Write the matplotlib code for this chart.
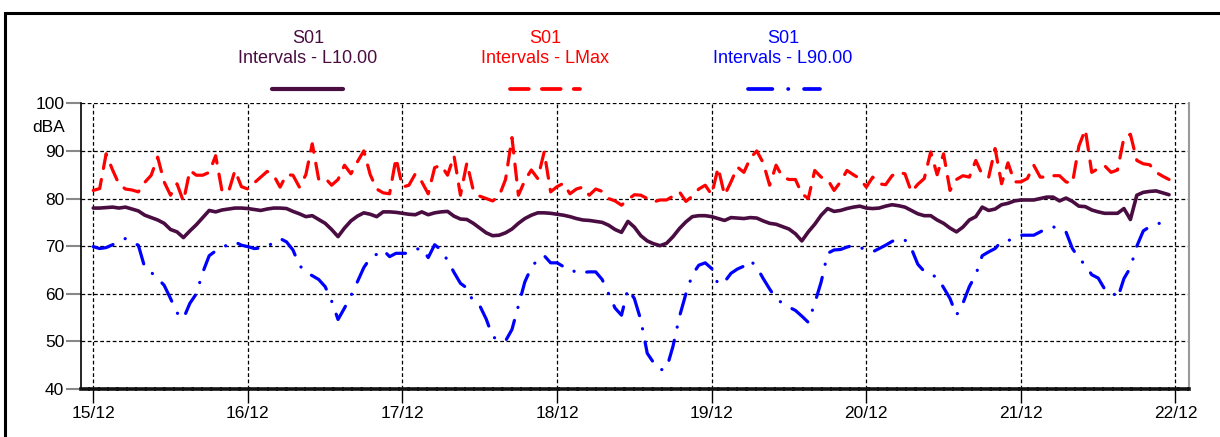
import matplotlib
matplotlib.use("Agg")
import matplotlib.pyplot as plt
import matplotlib.dates as mdates
from matplotlib.lines import Line2D
from matplotlib.patches import Rectangle
import numpy as np
import pandas as pd

plt.rcParams["font.family"] = ["Liberation Sans", "DejaVu Sans"]

# hourly samples, 15/12 00:00 -> 21/12 23:00
start = "2023-12-15"
n_hours = 168

l10 = [
    78.0, 78.0, 78.1, 78.2, 78.0, 78.2, 77.8, 77.4, 76.5, 76.0, 75.5, 74.8, 73.5, 73.0, 71.8, 73.2, 74.5, 76.0, 77.5, 77.2, 77.6, 77.8, 78.0, 78.0,
    77.9, 77.7, 77.5, 77.8, 78.0, 78.0, 77.9, 77.3, 76.8, 76.2, 76.4, 75.6, 74.8, 73.5, 72.0, 73.8, 75.3, 76.3, 77.0, 76.7, 76.2, 77.2, 77.2, 77.1,
    76.9, 76.7, 76.6, 77.2, 76.6, 77.0, 77.2, 77.3, 76.3, 75.7, 75.6, 74.8, 73.8, 72.8, 72.2, 72.3, 72.8, 73.6, 74.8, 75.8, 76.5, 77.0, 77.0, 76.9,
    76.7, 76.5, 76.2, 75.8, 75.5, 75.4, 75.2, 75.0, 74.4, 73.5, 72.9, 75.2, 74.0, 72.2, 71.1, 70.5, 70.1, 70.6, 72.0, 73.7, 75.1, 76.2, 76.4, 76.4,
    76.2, 75.8, 75.4, 76.0, 75.9, 75.8, 76.0, 75.9, 75.3, 74.8, 74.6, 74.1, 73.6, 72.6, 71.1, 73.0, 74.6, 76.5, 77.9, 77.3, 77.5, 77.9, 78.2, 78.4,
    78.0, 77.9, 78.0, 78.4, 78.7, 78.5, 78.2, 77.5, 76.8, 76.4, 76.4, 75.5, 74.8, 73.8, 73.0, 74.0, 75.5, 76.2, 78.2, 77.5, 77.8, 78.7, 79.0, 79.5,
    79.7, 79.7, 79.7, 80.0, 80.3, 80.3, 79.5, 80.1, 79.4, 78.4, 78.3, 77.6, 77.2, 76.9, 76.9, 76.9, 77.9, 75.6, 80.7, 81.3, 81.5, 81.6, 81.2, 80.8,
]

lmax = [
    81.7, 82.1, 89.4, 86.0, 83.0, 82.0, 81.8, 81.4, 83.4, 84.9, 88.7, 83.5, 80.7, 83.1, 79.4, 85.9, 84.9, 84.9, 85.5, 89.0, 81.5, 81.4, 85.9, 82.5,
    82.0, 83.3, 84.5, 85.7, 84.9, 82.4, 85.0, 84.9, 82.4, 85.0, 91.5, 84.0, 84.3, 82.8, 84.0, 87.0, 85.2, 87.7, 90.0, 85.0, 82.0, 81.2, 81.0, 88.5,
    82.4, 82.8, 85.2, 83.5, 81.0, 86.5, 87.0, 84.9, 89.0, 80.7, 87.5, 81.7, 80.5, 80.0, 79.5, 80.5, 84.0, 92.8, 80.7, 83.8, 86.0, 84.2, 89.8, 81.4,
    82.5, 83.2, 81.0, 82.0, 82.4, 80.7, 82.0, 81.5, 80.0, 79.5, 78.6, 79.8, 80.8, 80.7, 80.0, 79.3, 79.7, 79.7, 80.5, 81.4, 79.4, 80.5, 82.0, 82.8,
    80.8, 86.5, 80.7, 83.5, 86.6, 85.5, 88.5, 90.0, 87.5, 82.8, 87.0, 84.5, 84.0, 84.0, 81.0, 80.0, 85.9, 84.5, 84.0, 81.7, 83.5, 85.9, 85.0, 84.2,
    82.4, 84.5, 83.1, 82.9, 84.8, 85.5, 85.2, 81.4, 83.0, 84.2, 89.8, 85.0, 89.4, 81.7, 84.0, 84.8, 84.5, 88.0, 85.0, 84.5, 90.5, 83.1, 87.5, 83.5,
    83.5, 84.2, 87.0, 84.5, 84.5, 84.8, 84.8, 83.5, 83.2, 91.0, 94.5, 85.5, 86.3, 86.9, 85.5, 86.0, 92.8, 93.5, 88.0, 87.3, 87.1, 85.5, 84.7, 84.0,
]

l90 = [
    69.9, 69.5, 69.7, 70.3, 71.0, 71.6, 70.8, 70.2, 65.5, 64.5, 63.2, 61.8, 59.0, 56.0, 54.8, 58.0, 60.0, 64.5, 68.0, 69.0, 69.8, 70.3, 70.9, 70.2,
    69.9, 69.5, 69.6, 69.9, 70.8, 71.6, 70.9, 69.2, 66.0, 64.5, 63.8, 63.0, 61.5, 58.5, 54.6, 57.0, 59.6, 62.5, 65.5, 67.5, 68.3, 69.2, 67.8, 68.5,
    68.5, 68.5, 69.3, 69.6, 67.6, 70.3, 69.2, 67.0, 64.5, 62.2, 61.2, 58.3, 57.5, 54.7, 51.0, 50.2, 50.1, 52.5, 57.5, 62.5, 65.5, 67.2, 68.0, 66.5,
    66.5, 65.7, 65.5, 64.3, 64.5, 64.6, 64.6, 63.0, 60.0, 57.0, 55.5, 61.0, 59.0, 54.5, 47.5, 45.5, 44.0, 44.3, 49.0, 55.2, 60.0, 64.0, 66.0, 66.5,
    65.3, 62.0, 62.5, 64.3, 65.2, 65.8, 67.0, 65.6, 63.2, 61.0, 59.0, 58.0, 57.2, 56.5, 55.3, 54.0, 58.0, 62.5, 68.5, 69.2, 69.3, 69.8, 70.2, 69.6,
    69.5, 68.8, 69.5, 70.2, 71.0, 71.6, 71.3, 69.5, 66.2, 64.7, 64.0, 63.5, 61.3, 59.0, 55.5, 58.0, 61.5, 64.0, 68.0, 68.8, 69.5, 71.0, 71.2, 71.5,
    72.3, 72.3, 72.3, 73.0, 73.7, 74.1, 73.4, 73.0, 69.5, 67.5, 66.0, 64.0, 63.3, 61.0, 60.8, 59.0, 63.2, 65.5, 70.0, 73.2, 74.1, 74.6, 75.0, 74.5,
]

site = "S01"
labels = ["Intervals - L10.00", "Intervals - LMax", "Intervals - L90.00"]
colors = ["#4a0d42", "#ff0000", "#0000ff"]
yticks = [40, 50, 60, 70, 80, 90, 100]

times = pd.date_range(start, periods=n_hours, freq="h")

fig = plt.figure(figsize=(12.2, 4.37), dpi=100)
ax = fig.add_axes([0.0664, 0.1098, 0.9082, 0.6538])

dash = (0, (5, 3.5))
dashdot = (0, (6.5, 4.2, 0.05, 4.2))
styles = ["-", dash, dashdot]
widths = [2.6, 2.3, 2.3]

for series, col, ls, lw in zip([l10, lmax, l90], colors, styles, widths):
    ax.plot(times, series, color=col, linestyle=ls, lw=lw,
            dash_capstyle="round", solid_capstyle="round", zorder=3)

ax.set_ylim(40, 100)
ax.set_yticks(yticks)
ax.set_xlim(times[0] - pd.Timedelta(hours=1.9),
            times[0] + pd.Timedelta(days=7, hours=2.1))
ax.xaxis.set_major_locator(mdates.DayLocator())
ax.xaxis.set_major_formatter(mdates.DateFormatter("%d/%m"))

ax.grid(True, color="black", linestyle=(0, (3, 2)), lw=0.9)
ax.set_axisbelow(True)

ax.spines["top"].set_visible(False)
ax.spines["right"].set_color("#999999")
ax.spines["right"].set_linewidth(1.5)
ax.spines["left"].set_color("black")
ax.spines["left"].set_linewidth(1.2)
ax.spines["bottom"].set_color("#111111")
ax.spines["bottom"].set_linewidth(2.6)
ax.spines["bottom"].set_linestyle((0, (2, 0.6)))

ax.tick_params(axis="y", length=11, width=1.5, color="#888888",
               labelsize=12.5, pad=1)
ax.tick_params(axis="x", length=10, width=1.0, color="black",
               labelsize=12.5, pad=2)

ax.text(-0.014, 0.915, "dBA", transform=ax.transAxes, ha="right",
        va="center", fontsize=12.5)

# legend: text above a line sample
text_x = [0.2525, 0.4467, 0.6418]
line_x = [(0.223, 0.281), (0.418, 0.475), (0.613, 0.672)]
for lab, col, ls, lw, tx, (x0, x1) in zip(labels, colors, styles, widths,
                                          text_x, line_x):
    fig.text(tx, 0.913, site, color=col, ha="center", va="center", fontsize=13)
    fig.text(tx, 0.867, lab, color=col, ha="center", va="center", fontsize=13)
    fig.add_artist(Line2D([x0, x1], [0.7963, 0.7963], color=col,
                          linestyle=ls, lw=lw + 0.4,
                          dash_capstyle="round", solid_capstyle="round",
                          transform=fig.transFigure))

# outer frame (runs off the right and bottom edges)
fig.add_artist(Rectangle((0.0041, -0.1), 1.2, 1.07, transform=fig.transFigure,
                         fill=False, lw=2.2, edgecolor="black", clip_on=False))

fig.savefig("out.png", dpi=100)
